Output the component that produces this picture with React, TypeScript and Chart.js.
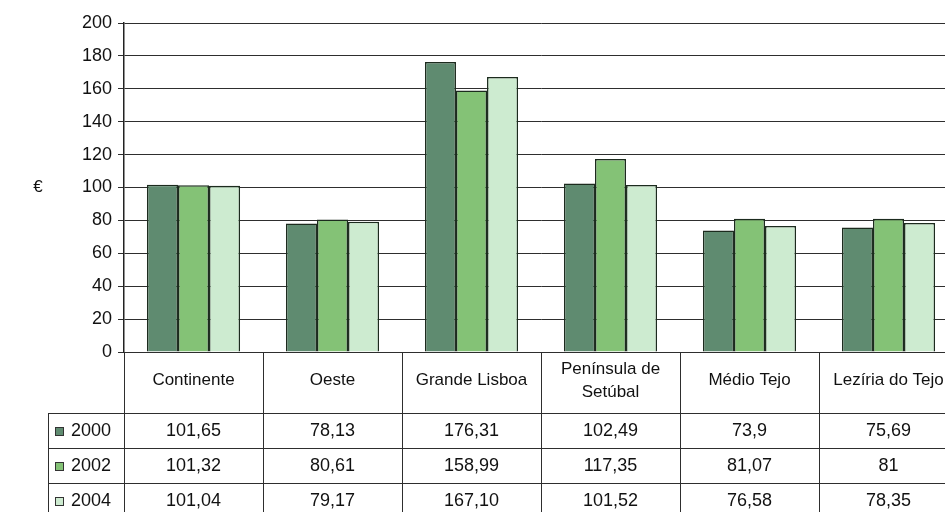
import React, { useEffect, useRef } from 'react';
import { Chart, registerables } from 'chart.js';

Chart.register(...registerables);

// ---- data ----
const categories = ['Continente', 'Oeste', 'Grande Lisboa', 'Península de Setúbal', 'Médio Tejo', 'Lezíria do Tejo'];
const headerLines = [['Continente'], ['Oeste'], ['Grande Lisboa'], ['Península de', 'Setúbal'], ['Médio Tejo'], ['Lezíria do Tejo']];
const seriesNames = ['2000', '2002', '2004'];
const labels2000 = ['101,65', '78,13', '176,31', '102,49', '73,9', '75,69'];
const labels2002 = ['101,32', '80,61', '158,99', '117,35', '81,07', '81'];
const labels2004 = ['101,04', '79,17', '167,10', '101,52', '76,58', '78,35'];
const yMin = 0;
const yMax = 200;
const yStep = 20;
const yUnit = '€';

const seriesLabels = [labels2000, labels2002, labels2004];
const toNum = (s: string) => parseFloat(s.replace(',', '.'));
const colors = ['#5f8b70', '#84c276', '#cdebd0'];
const FONT = "'Liberation Sans', Arial, sans-serif";

const tablePlugin = {
  id: 'dataTable',
  afterDraw(chart: any) {
    const ctx = chart.ctx as CanvasRenderingContext2D;
    const x = chart.scales.x;
    const y = chart.scales.y;
    const area = chart.chartArea;
    const n = categories.length;
    const colW = (x.right - x.left) / n;
    const top = area.bottom;
    const headerH = 61;
    const rowH = 35;
    const legendLeft = 48;
    const rowsTop = top + headerH;
    const bottom = rowsTop + rowH * seriesNames.length;
    ctx.save();
    ctx.strokeStyle = '#2e2e2e';
    ctx.lineWidth = 1;
    ctx.beginPath();
    for (let i = 0; i <= n; i++) {
      const cx = Math.round(x.left + colW * i) + 0.5;
      ctx.moveTo(cx, top);
      ctx.lineTo(cx, bottom);
    }
    ctx.moveTo(legendLeft + 0.5, rowsTop);
    ctx.lineTo(legendLeft + 0.5, bottom);
    for (let r = 0; r <= seriesNames.length; r++) {
      const ry = Math.round(rowsTop + rowH * r) + 0.5;
      ctx.moveTo(legendLeft, ry);
      ctx.lineTo(x.right, ry);
    }
    ctx.stroke();

    const cellFont = `18px ${FONT}`;
    ctx.fillStyle = '#111';
    ctx.textAlign = 'center';
    ctx.textBaseline = 'middle';
    ctx.font = `17px ${FONT}`;
    headerLines.forEach((lines, i) => {
      const cx = x.getPixelForValue(i);
      const cy = top + headerH / 2 - 2;
      const lh = 23;
      lines.forEach((t, k) => {
        ctx.fillText(t, cx, cy + (k - (lines.length - 1) / 2) * lh);
      });
    });
    ctx.font = cellFont;
    seriesLabels.forEach((row, r) => {
      const cy = rowsTop + rowH * r + rowH / 2 + 1;
      row.forEach((t, i) => {
        ctx.fillText(t, x.getPixelForValue(i), cy);
      });
      const mx = legendLeft + 7;
      ctx.fillStyle = colors[r];
      ctx.fillRect(mx, cy - 4.5, 9, 9);
      ctx.strokeStyle = '#333';
      ctx.strokeRect(mx + 0.5, cy - 4.5 + 0.5, 8, 8);
      ctx.fillStyle = '#111';
      ctx.textAlign = 'left';
      ctx.font = `18px ${FONT}`;
      ctx.fillText(seriesNames[r], legendLeft + 23, cy);
      ctx.textAlign = 'center';
      ctx.font = cellFont;
    });
    ctx.font = `17px ${FONT}`;
    ctx.fillText(yUnit, 38, y.getPixelForValue(100));
    ctx.restore();
  },
};

export default function App() {
  const ref = useRef<HTMLCanvasElement | null>(null);
  useEffect(() => {
    document.documentElement.style.overflow = 'hidden';
    document.body.style.overflow = 'hidden';
    document.body.style.margin = '0';
    const canvas = ref.current!;
    const chart = new Chart(canvas, {
      type: 'bar',
      data: {
        labels: categories,
        datasets: seriesNames.map((name, i) => ({
          label: name,
          data: seriesLabels[i].map(toNum),
          backgroundColor: colors[i],
          borderColor: '#1c2b1e',
          borderWidth: 1.5,
          categoryPercentage: 0.67,
          barPercentage: 1.0,
        })),
      },
      options: {
        responsive: false,
        animation: false,
        devicePixelRatio: 1,
        layout: { padding: { top: 23, bottom: 160, left: 0, right: 0 } },
        plugins: { legend: { display: false }, tooltip: { enabled: false } },
        scales: {
          x: { display: false },
          y: {
            min: yMin,
            max: yMax,
            ticks: { stepSize: yStep, color: '#111', font: { family: FONT, size: 18 }, padding: 6 },
            grid: { color: '#2e2e2e', lineWidth: 1, tickLength: 6, drawTicks: true },
            border: { display: true, color: '#222', width: 1.5 },
            afterFit: (scale: any) => { scale.width = 124; },
          },
        },
      },
      plugins: [tablePlugin],
    });
    return () => chart.destroy();
  }, []);
  return (
    <div style={{ position: 'fixed', left: 0, top: 0, width: 958, height: 512, background: '#fff' }}>
      <canvas ref={ref} width={958} height={512} style={{ display: 'block' }} />
    </div>
  );
}
